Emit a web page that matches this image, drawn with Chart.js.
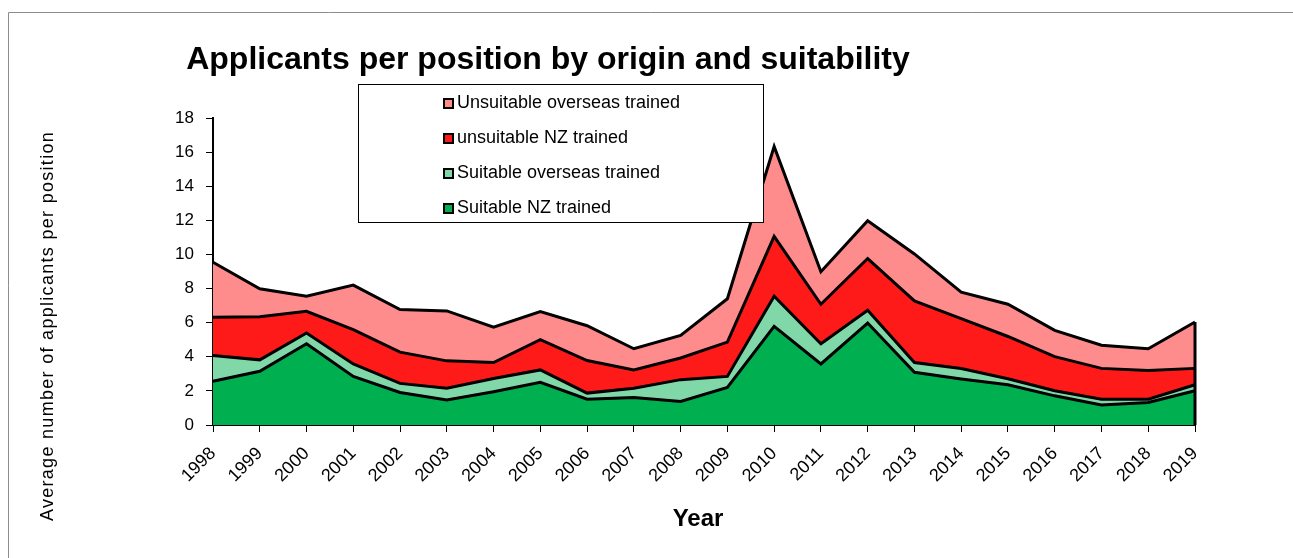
<!DOCTYPE html>
<html lang="en">
<head>
<meta charset="UTF-8">
<title>Applicants per position by origin and suitability</title>
<script src="https://cdn.jsdelivr.net/npm/chart.js"></script>
<style>
  body { margin: 0; background: #fff; }
  #wrap { width: 1293px; height: 558px; }
</style>
</head>
<body>
<div id="wrap"><canvas id="areaChart" width="1293" height="558"></canvas></div>
<script>
  // values (stacked, bottom to top)
  const years = ['1998', '1999', '2000', '2001', '2002', '2003', '2004', '2005', '2006', '2007', '2008',
                 '2009', '2010', '2011', '2012', '2013', '2014', '2015', '2016', '2017', '2018', '2019'];
  const suitableNZ = [2.56, 3.15, 4.76, 2.85, 1.91, 1.46, 1.95, 2.50, 1.51, 1.61, 1.38,
                      2.20, 5.78, 3.58, 5.98, 3.09, 2.70, 2.36, 1.71, 1.18, 1.32, 2.01];
  const suitableOverseas = [1.51, 0.67, 0.63, 0.73, 0.53, 0.70, 0.78, 0.73, 0.36, 0.55, 1.28,
                            0.65, 1.77, 1.18, 0.75, 0.57, 0.61, 0.35, 0.30, 0.33, 0.19, 0.35];
  const unsuitableNZ = [2.25, 2.53, 1.28, 2.01, 1.83, 1.60, 0.93, 1.77, 1.91, 1.07, 1.27,
                        2.01, 3.51, 2.32, 3.03, 3.62, 2.93, 2.48, 2.00, 1.81, 1.68, 0.96];
  const unsuitableOverseas = [3.22, 1.64, 0.88, 2.61, 2.50, 2.93, 2.08, 1.65, 2.04, 1.24, 1.32,
                              2.54, 5.27, 1.91, 2.22, 2.75, 1.55, 1.89, 1.54, 1.36, 1.28, 2.72];
  const seriesNames = ['Suitable NZ trained', 'Suitable overseas trained', 'unsuitable NZ trained', 'Unsuitable overseas trained'];
  const seriesColors = ['#00B050', '#80D8A8', '#FF1A1A', '#FF8C8C'];

  const FONT = "'Liberation Sans', Arial, sans-serif";

  const makeSet = (i, values) => ({
    label: seriesNames[i],
    data: values,
    backgroundColor: seriesColors[i],
    borderColor: '#000',
    borderWidth: 3,
    fill: i === 0 ? 'origin' : '-1',
    tension: 0,
    pointRadius: 0,
  });

  // title, legend box, axis titles and outer frame
  const decor = {
    id: 'decor',
    afterDraw(chart) {
      const ctx = chart.ctx;
      ctx.save();

      // outer frame (only top and left visible)
      ctx.strokeStyle = '#8c8c8c';
      ctx.lineWidth = 1;
      ctx.beginPath();
      ctx.moveTo(1293, 12.5);
      ctx.lineTo(8.5, 12.5);
      ctx.lineTo(8.5, 558);
      ctx.stroke();

      // right edge of the stacked area
      const top = chart.getDatasetMeta(3).data;
      const last = top[top.length - 1];
      ctx.strokeStyle = '#000';
      ctx.lineWidth = 3;
      ctx.beginPath();
      ctx.moveTo(last.x, last.y);
      ctx.lineTo(last.x, chart.scales.y.getPixelForValue(0));
      ctx.stroke();

      // title
      ctx.fillStyle = '#000';
      ctx.font = 'bold 32px ' + FONT;
      ctx.textAlign = 'center';
      ctx.textBaseline = 'alphabetic';
      ctx.fillText('Applicants per position by origin and suitability', 548, 69);

      // x title
      ctx.font = 'bold 24px ' + FONT;
      ctx.fillText('Year', 698, 526);

      // y title
      ctx.save();
      ctx.translate(53, 326);
      ctx.rotate(-Math.PI / 2);
      ctx.font = '18px ' + FONT;
      ctx.letterSpacing = '1.3px';
      ctx.fillText('Average number of applicants per position', 0, 0);
      ctx.restore();

      // legend
      ctx.fillStyle = '#fff';
      ctx.fillRect(358.5, 84.5, 405, 138);
      ctx.strokeStyle = '#000';
      ctx.lineWidth = 1;
      ctx.strokeRect(358.5, 84.5, 405, 138);
      ctx.font = '18px ' + FONT;
      ctx.textAlign = 'left';
      for (let k = 0; k < 4; k++) {
        const i = 3 - k;
        const y = 108 + k * 35;
        ctx.fillStyle = seriesColors[i];
        ctx.fillRect(444, y - 9, 9, 9);
        ctx.strokeStyle = '#000';
        ctx.lineWidth = 2;
        ctx.strokeRect(444, y - 9, 9, 9);
        ctx.fillStyle = '#000';
        ctx.fillText(seriesNames[i], 457, y);
      }
      ctx.restore();
    }
  };

  new Chart(document.getElementById('areaChart'), {
    type: 'line',
    data: {
      labels: years,
      datasets: [
        makeSet(0, suitableNZ),
        makeSet(1, suitableOverseas),
        makeSet(2, unsuitableNZ),
        makeSet(3, unsuitableOverseas),
      ]
    },
    options: {
      responsive: false,
      animation: false,
      layout: { padding: { left: 153, top: 118, right: 98, bottom: 0 } },
      plugins: {
        legend: { display: false },
        title: { display: false },
        tooltip: { enabled: false },
      },
      scales: {
        x: {
          offset: false,
          afterFit: (s) => { s.height = 133; },
          grid: { drawOnChartArea: false, color: '#000', tickLength: 7 },
          border: { color: '#000', width: 2 },
          ticks: {
            autoSkip: false, maxRotation: 45, minRotation: 45, padding: 11,
            color: '#000', font: { family: FONT, size: 18 },
          },
        },
        y: {
          stacked: true,
          min: 0,
          max: 18,
          afterFit: (s) => { s.width = 60; },
          grid: { drawOnChartArea: false, color: '#000', tickLength: 7 },
          border: { color: '#000', width: 2 },
          ticks: {
            stepSize: 2, padding: 12,
            color: '#000', font: { family: FONT, size: 17 },
          },
        },
      },
    },
    plugins: [decor],
  });
</script>
</body>
</html>
